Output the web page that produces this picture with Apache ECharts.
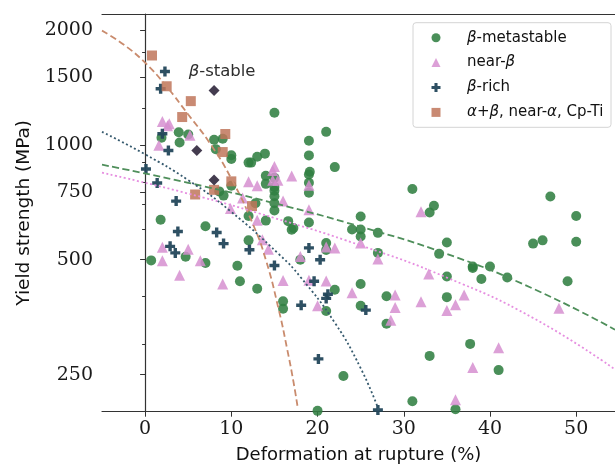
<!DOCTYPE html>
<html>
<head>
<meta charset="utf-8">
<script src="https://cdn.jsdelivr.net/npm/echarts@6.0.0/dist/echarts.min.js"></script>
<style>
  html, body { margin: 0; padding: 0; background: #fff; }
  #main { width: 615px; height: 467px; }
</style>
</head>
<body>
<div id="main"></div>
<script>
// [deformation at rupture (%), yield strength (MPa)]
const metastable = [
  [0.7, 498], [1.8, 636], [1.9, 1043], [3.9, 1078], [4.0, 1014], [5.0, 1064], [4.7, 509],
  [7.0, 490], [7.0, 612], [8.0, 1031], [9.0, 1037], [8.2, 974], [10.0, 939], [10.0, 918],
  [12.0, 898], [12.3, 898], [13.0, 930], [13.9, 948], [15.0, 1213], [14.0, 829], [14.0, 790],
  [15.0, 820], [15.0, 775], [15.0, 758], [15.0, 733], [15.0, 703], [15.0, 673], [10.0, 781],
  [9.1, 736], [8.6, 755], [12.8, 703], [12.0, 651], [14.0, 633], [12.0, 562], [10.7, 482],
  [11.0, 439], [13.0, 420], [16.0, 389], [16.0, 372], [18.0, 500], [16.6, 631], [17.2, 605],
  [17.0, 599], [19.0, 1024], [19.0, 938], [19.1, 850], [19.0, 836], [19.0, 795], [19.0, 749],
  [19.0, 626], [21.0, 1081], [22.0, 874], [21.0, 553], [21.0, 530], [22.0, 417], [21.0, 367],
  [23.0, 248], [20.0, 201], [25.0, 649], [24.0, 600], [25.0, 600], [25.0, 575], [27.0, 588],
  [27.0, 521], [25.0, 432], [25.0, 379], [28.0, 401], [28.0, 340], [31.0, 766], [33.5, 692],
  [33.0, 665], [33.0, 280], [31.0, 213], [35.0, 555], [34.1, 518], [35.0, 452], [35.0, 399],
  [36.0, 203], [38.0, 480], [38.0, 476], [40.0, 480], [39.0, 445], [42.0, 449], [37.7, 301],
  [41.0, 257], [45.0, 551], [46.1, 562], [50.0, 557], [49.0, 439], [47.0, 732], [50.0, 651]
];
const nearBeta = [
  [2.0, 1151], [2.6, 1121], [2.8, 1135], [1.6, 997], [5.2, 1059], [2.0, 539], [2.0, 497],
  [4.0, 455], [5.0, 533], [6.4, 497], [9.0, 432], [9.9, 681], [11.3, 725], [12.0, 800],
  [13.0, 781], [13.0, 634], [13.6, 564], [14.3, 533], [15.0, 877], [14.8, 856], [15.4, 807],
  [14.8, 807], [17.0, 828], [16.0, 712], [16.0, 441], [18.0, 510], [19.0, 784], [19.0, 676],
  [19.0, 442], [20.0, 379], [21.0, 440], [21.0, 540], [22.0, 537], [24.0, 410], [25.0, 553],
  [27.0, 502], [29.0, 404], [29.0, 375], [28.5, 347], [32.0, 668], [32.9, 459], [32.0, 388],
  [35.0, 368], [36.0, 381], [37.0, 404], [36.0, 215], [38.0, 261], [41.0, 294], [48.0, 373]
];
const betaRich = [
  [2.3, 1555], [1.8, 1402], [2.0, 1069], [2.7, 966], [0.1, 864], [1.4, 794], [3.6, 712],
  [3.8, 593], [2.9, 542], [3.5, 521], [8.3, 589], [9.1, 551], [12.1, 531], [15.0, 483],
  [18.1, 380], [19.0, 537], [20.3, 500], [19.6, 439], [21.2, 406], [21.0, 396], [25.6, 369],
  [20.1, 275], [27.0, 202]
];
const alphaBeta = [
  [0.8, 1713], [2.5, 1423], [5.3, 1301], [4.3, 1182], [9.3, 1067], [9.0, 957], [10.0, 802],
  [8.0, 762], [5.8, 741], [12.4, 691]
];
const betaStable = [[8.0, 1387], [6.0, 966], [8.0, 809]];

// trend lines
const alphaBetaFitX = [-5, -2.5, 0, 2.5, 5, 7.5, 10, 12.5, 14, 15.5, 16.5, 17.2, 17.7];
const alphaBetaFitY = [1990, 1830, 1640, 1420, 1200, 1010, 815, 620, 500, 370, 290, 240, 205];
const metastableFitX = [-5, 5, 15, 25, 35, 45, 54.5];
const metastableFitY = [887, 795, 703, 610, 518, 420, 328];
const nearBetaFitX = [-5, 5, 15, 25, 35, 45, 54.5];
const nearBetaFitY = [845, 745, 643, 545, 449, 352, 258];
const betaRichFitX = [-5, 0, 5, 9.8, 15.6, 18, 22, 25, 27.1];
const betaRichFitY = [1081, 944, 808, 673, 515, 451, 342, 260, 202];

const xTicks = [0, 10, 20, 30, 40, 50];
const yTicks = [250, 500, 750, 1000, 1500, 2000];
const yMinorTicks = [300, 400, 600, 700, 800, 900, 1250, 1750];

const names = ['β-metastable', 'near-β', 'β-rich', 'α+β, near-α, Cp-Ti'];
const legendText = {
  'β-metastable': '{g|β}-metastable',
  'near-β': 'near-{g|β}',
  'β-rich': '{g|β}-rich',
  'α+β, near-α, Cp-Ti': '{g|α}+{g|β}, near-{g|α}, Cp-Ti'
};

const zip = (xs, ys) => xs.map((x, i) => [x, ys[i]]);
const plusPath = 'path://M3.3,0H6.7V3.3H10V6.7H6.7V10H3.3V6.7H0V3.3H3.3Z';
const serif = 'DejaVu Serif';
const sans = 'DejaVu Sans';

var chart = echarts.init(document.getElementById('main'));

function scatter(name, data, symbol, size, color, opacity) {
  return {
    name: name,
    type: 'scatter',
    data: data,
    symbol: symbol,
    symbolSize: size,
    itemStyle: { color: color, opacity: opacity },
    emphasis: { disabled: true }
  };
}

function fit(xs, ys, color, dash, width) {
  return {
    type: 'line',
    data: zip(xs, ys),
    showSymbol: false,
    smooth: true,
    lineStyle: { color: color, width: width, type: dash, cap: 'butt' },
    emphasis: { disabled: true },
    z: 3
  };
}

var option = {
  animation: false,
  grid: { left: 102, top: 14, right: 0, bottom: 55.3, outerBoundsMode: 'none', containLabel: false },
  legend: {
    data: names,
    orient: 'vertical',
    left: 431.5,
    top: 29.7,
    padding: 0,
    itemWidth: 9,
    itemHeight: 9,
    itemGap: 8.9,
    formatter: function (n) { return '{s| }' + legendText[n]; },
    textStyle: {
      fontFamily: sans, fontSize: 15, color: '#111', lineHeight: 16,
      rich: {
        s: { width: 21.5, fontSize: 15, lineHeight: 16 },
        g: { fontFamily: sans, fontSize: 15, fontStyle: 'italic', color: '#111', lineHeight: 16 }
      }
    }
  },
  graphic: {
    elements: [{
      type: 'rect', z: 3,
      shape: { x: 413, y: 22.7, width: 198, height: 104.6, r: 3 },
      style: { fill: 'rgba(255,255,255,0.85)', stroke: '#d4d4d4', lineWidth: 1 }
    }]
  },
  xAxis: [{
    type: 'value',
    min: -5, max: 54.5,
    name: 'Deformation at rupture (%)',
    nameLocation: 'middle',
    nameGap: 35,
    nameTextStyle: { fontFamily: sans, fontSize: 18, color: '#111' },
    axisLine: { lineStyle: { color: '#333', width: 1.2 } },
    axisTick: { customValues: xTicks, length: 5, lineStyle: { color: '#333' } },
    axisLabel: { customValues: xTicks, margin: 8, fontFamily: serif, fontSize: 19, color: '#1a1a1a' },
    splitLine: { show: false }
  }, {
    type: 'value',
    position: 'top',
    min: -5, max: 54.5,
    axisLine: { lineStyle: { color: '#333', width: 1.2 } },
    axisTick: { show: false },
    axisLabel: { show: false },
    splitLine: { show: false }
  }],
  yAxis: [{
    type: 'log',
    logBase: 10,
    min: 200, max: 2200,
    name: 'Yield strength (MPa)',
    nameLocation: 'middle',
    nameGap: 66,
    nameTextStyle: { fontFamily: sans, fontSize: 18.5, color: '#111' },
    axisLine: { show: true, lineStyle: { color: '#333', width: 1.2 } },
    axisTick: { customValues: yTicks, length: 5, lineStyle: { color: '#333' } },
    axisLabel: {
      customValues: yTicks, margin: 9, fontFamily: serif, fontSize: 19, color: '#1a1a1a',
      formatter: function (v) { return String(Math.round(v)); }
    },
    splitLine: { show: false },
    minorSplitLine: { show: false }
  }, {
    type: 'log',
    logBase: 10,
    min: 200, max: 2200,
    position: 'left',
    axisLine: { show: false },
    axisTick: { customValues: yMinorTicks, length: 3, lineStyle: { color: '#333' } },
    axisLabel: { customValues: yMinorTicks, show: false },
    splitLine: { show: false }
  }],
  series: [
    scatter(names[0], metastable, 'circle', 10, '#317f42', 0.88),
    scatter(names[1], nearBeta, 'triangle', 11, '#d68fd0', 0.85),
    scatter(names[2], betaRich, plusPath, 10, '#23475b', 0.95),
    scatter(names[3], alphaBeta, 'rect', 10, '#bf765b', 0.85),
    {
      name: 'β-stable',
      type: 'scatter',
      data: betaStable,
      symbol: 'diamond',
      symbolSize: 11,
      itemStyle: { color: '#3a3246', opacity: 0.95 },
      emphasis: { disabled: true },
      label: {
        show: true,
        position: 'top',
        distance: 5,
        offset: [8, 0],
        formatter: function (p) { return p.dataIndex === 0 ? '{g|β}-stable' : ''; },
        fontFamily: sans, fontSize: 16.5, color: '#222',
        rich: { g: { fontFamily: sans, fontSize: 16.5, fontStyle: 'italic', color: '#222' } }
      }
    },
    fit(alphaBetaFitX, alphaBetaFitY, '#c98b6d', [6.5, 3.5], 1.8),
    fit(metastableFitX, metastableFitY, '#4f8f5b', [7, 3.5], 1.8),
    fit(nearBetaFitX, nearBetaFitY, '#e68ee0', [2, 2.5], 1.8),
    fit(betaRichFitX, betaRichFitY, '#365a6e', [2, 2.5], 1.8)
  ]
};

chart.setOption(option);
</script>
</body>
</html>
